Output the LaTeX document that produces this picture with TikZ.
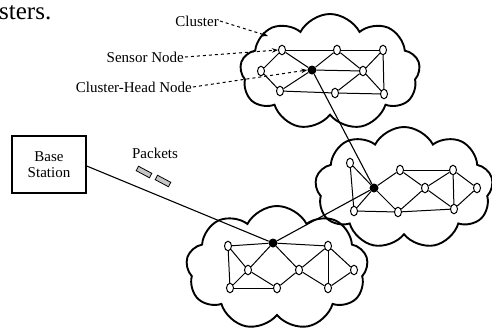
\documentclass[tikz,border=0pt]{standalone}
\usepackage{fontspec}
\setmainfont{Liberation Serif}
\usepackage{tikz}
\usetikzlibrary{shapes.geometric,shapes.symbols,arrows.meta}

\begin{document}
\begin{tikzpicture}[
    x=1pt, y=-1pt,
    cluster/.style={draw, cloud, cloud puffs=9, cloud puff arc=125, cloud ignores aspect, line width=1.9pt, inner sep=0},
    sensor/.style={draw, ellipse, fill=white, inner sep=0, minimum width=7pt, minimum height=9.5pt, line width=1pt},
    head/.style={circle, fill=black, inner sep=0, minimum size=9pt},
    packet/.style={draw, fill=gray!45, minimum width=15pt, minimum height=5pt, inner sep=0, rotate=-28, line width=0.8pt},
    link/.style={line width=1pt},
    pointer/.style={dashed, line width=1pt, -{Stealth[length=6pt,width=4.5pt]}},
    every node/.style={font=\fontsize{15}{16}\selectfont}
]
\useasboundingbox (0,0) rectangle (492,327);

% partial caption text
\node[anchor=base west, inner sep=0, font=\fontsize{25}{27}\selectfont] (cap) at (-1,19) {sters.};

% Clusters
\node[cluster, minimum width=180pt, minimum height=116pt] (cl1) at (330,72) {};
\node[cluster, minimum width=178pt, minimum height=122pt] (cl2) at (404,188) {};
\node[cluster, minimum width=182pt, minimum height=124pt] (cl3) at (277,268) {};

% Cluster 1 nodes
\node[sensor] (a1) at (282,50) {};
\node[sensor] (b1) at (337,50) {};
\node[sensor] (c1) at (383,50) {};
\node[sensor] (d1) at (261,71) {};
\node[head]   (h1) at (312,70) {};
\node[sensor] (e1) at (363,71) {};
\node[sensor] (f1) at (280,91) {};
\node[sensor] (g1) at (335,93) {};
\node[sensor] (i1) at (384,94) {};

% Cluster 2 nodes
\node[sensor] (a2) at (350,163) {};
\node[head]   (h2) at (374,188) {};
\node[sensor] (b2) at (400,170) {};
\node[sensor] (c2) at (453,170) {};
\node[sensor] (d2) at (425,188) {};
\node[sensor] (e2) at (477,188) {};
\node[sensor] (f2) at (354,211) {};
\node[sensor] (g2) at (398,212) {};
\node[sensor] (i2) at (454,209) {};

% Cluster 3 nodes
\node[head]   (h3) at (273,243) {};
\node[sensor] (a3) at (228,246) {};
\node[sensor] (b3) at (328,246) {};
\node[sensor] (c3) at (248,270) {};
\node[sensor] (d3) at (299,270) {};
\node[sensor] (e3) at (354,270) {};
\node[sensor] (f3) at (230,288) {};
\node[sensor] (g3) at (277,288) {};
\node[sensor] (i3) at (328,288) {};

% Edges inside clusters
\foreach \u/\v in {a1/b1, b1/c1, c1/i1, a1/d1, d1/f1, a1/h1, f1/h1, h1/b1, h1/e1, b1/e1, e1/c1, e1/g1, e1/i1, f1/g1, g1/i1,
                   a2/h2, a2/f2, f2/h2, h2/b2, h2/g2, b2/c2, b2/d2, d2/c2, d2/g2, d2/i2, c2/i2, c2/e2, e2/i2, f2/g2, g2/i2,
                   a3/h3, h3/b3, a3/f3, a3/c3, c3/h3, c3/f3, c3/g3, f3/g3, h3/d3, d3/b3, d3/g3, d3/i3, b3/i3, b3/e3, e3/i3}
    \draw[link] (\u) -- (\v);

% Base station and links between cluster heads
\node[draw, line width=1.4pt, minimum width=74pt, minimum height=57pt, align=center] (bs) at (49,164.5) {Base\\Station};
\draw[line width=1pt] (bs.east) ++(0,1.5) coordinate (bsout);
\draw[line width=1.1pt] (bsout) -- (h3);
\draw[line width=1.1pt] (h3) -- (h2);
\draw[line width=1.1pt] (h2) -- (h1);

% Packets
\node (pk) at (155,153) {Packets};
\node[packet] (p1) at (144,172) {};
\node[packet] (p2) at (163,181) {};

% Labels
\node[anchor=east, inner sep=1pt] (lcl) at (220,21) {Cluster};
\node[anchor=east, inner sep=1pt] (lsn) at (185,57) {Sensor Node};
\node[anchor=east, inner sep=1pt] (lch) at (193,87) {Cluster-Head Node};
\draw[pointer] (lcl.east) -- (268,36);
\draw[pointer] (lsn.east) -- (a1.west);
\draw[pointer] (lch.east) -- (h1.west);

\end{tikzpicture}
\end{document}
